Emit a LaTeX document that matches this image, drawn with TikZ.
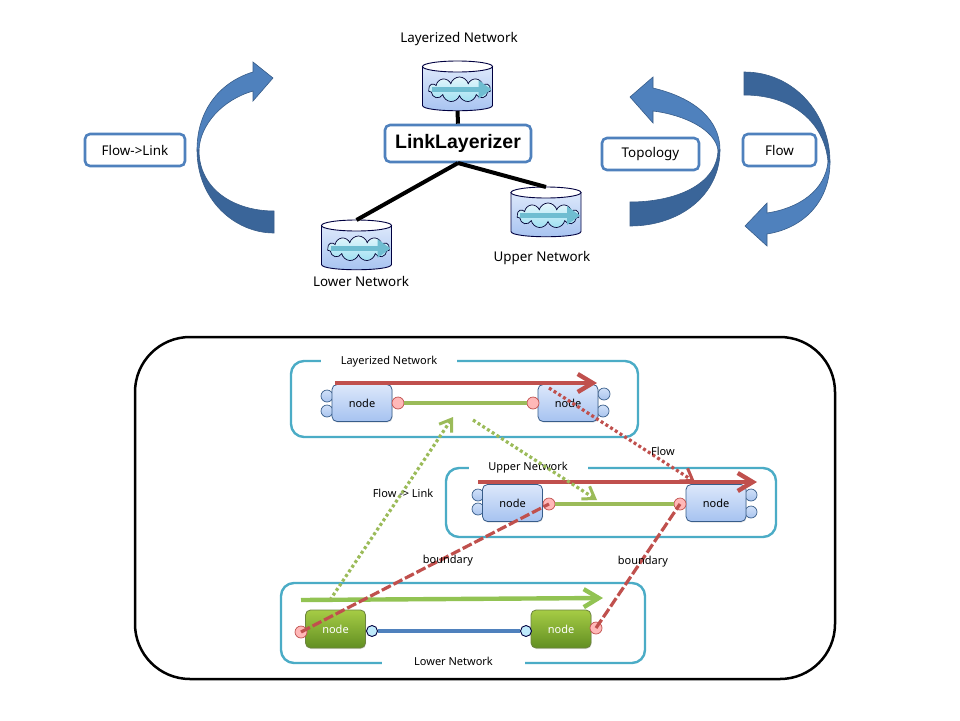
\documentclass[tikz,border=0pt]{standalone}
\usepackage{fontspec}
\setmainfont{Noto Sans}
\newfontfamily\boldarial{Liberation Sans}
\usetikzlibrary{arrows.meta,shapes.symbols,shadows}
\definecolor{accblue}{HTML}{4F81BD}
\definecolor{darkblue}{HTML}{3A6599}
\definecolor{edgeblue}{HTML}{385D8A}
\definecolor{teal}{HTML}{4BACC6}
\definecolor{accred}{HTML}{C0504D}
\definecolor{accgreen}{HTML}{9BBB59}
\definecolor{brightgreen}{HTML}{92C353}
\definecolor{nodetop}{HTML}{DCE8FB}
\definecolor{nodebot}{HTML}{A6C2F0}
\definecolor{porttop}{HTML}{D0E0F8}
\definecolor{portbot}{HTML}{A9C4EE}
\definecolor{greentop}{HTML}{A6CC45}
\definecolor{greenbot}{HTML}{628F22}
\definecolor{cloudtop}{HTML}{E4F6FC}
\definecolor{cloudbot}{HTML}{9FE0F2}
\tikzset{
  lbl/.style={font=\fontsize{13.4}{15}\selectfont,inner sep=0pt},
  smalllbl/.style={font=\fontsize{11}{13}\selectfont,inner sep=0pt},
  tagbox/.style={draw=accblue,line width=2.6pt,rounded corners=5pt,fill=white,font=\fontsize{13.4}{15}\selectfont},
  spoke/.style={line width=4pt,black},
  bluenode/.style={draw=edgeblue,line width=.8pt,rounded corners=5pt,top color=nodetop,bottom color=nodebot,minimum width=60pt,minimum height=37pt,inner sep=0pt,font=\fontsize{11}{13}\selectfont,drop shadow={opacity=.25,shadow xshift=.6pt,shadow yshift=-1pt}},
  greennode/.style={draw=accgreen!70!black,line width=.8pt,rounded corners=5pt,top color=greentop,bottom color=greenbot,text=white,minimum width=60pt,minimum height=38pt,inner sep=0pt,font=\fontsize{11}{13}\selectfont,drop shadow={opacity=.25,shadow xshift=.6pt,shadow yshift=-1pt}},
  blueport/.style={circle,draw=edgeblue,line width=.7pt,top color=porttop,bottom color=portbot,minimum size=12pt,inner sep=0pt},
  pinkport/.style={circle,draw=accred,line width=.7pt,fill=red!28!white,minimum size=12pt,inner sep=0pt},
  cyanport/.style={circle,draw=black!75!blue,line width=.9pt,fill=cyan!25!white,minimum size=11pt,inner sep=0pt},
  netbox/.style={draw=teal,line width=2.4pt,rounded corners=13pt},
  gaplabel/.style={fill=white,inner xsep=0pt,inner ysep=2pt,minimum height=10pt,font=\fontsize{11}{13}\selectfont,align=center},
  bigarrow/.style={line width=4.4pt,-{Straight Barb[length=15pt,width=18pt,line width=4.4pt]}},
  dotarrow/.style={line width=3.2pt,dash pattern=on 3pt off 2.6pt,-{Straight Barb[length=11pt,width=15pt,line width=3pt]}},
  dashline/.style={line width=3.2pt,accred,dash pattern=on 10pt off 3pt},
  netdb/.pic={
    \path[draw=black!75!blue,line width=.9pt,top color=nodetop,bottom color=nodebot]
      (-35,-19.5) -- (-35,19.5) .. controls (-35,26.5) and (35,26.5) .. (35,19.5) -- (35,-19.5) -- cycle;
    \draw[black!75!blue,line width=.9pt,fill=white] (0,-19.5) ellipse [x radius=35,y radius=5.5];
    \node[cloud,cloud puffs=11,aspect=2.6,draw=black!80!blue,line width=.7pt,top color=cloudtop,bottom color=cloudbot,minimum width=62pt,minimum height=25pt,inner sep=0pt] (-cloud) at (2,3.5) {};
    \coordinate (-a) at (-26,3.5);
    \coordinate (-b) at (34,3.5);
    \draw[teal!80!white,line width=5pt,-{Triangle[length=13pt,width=18pt]}] (-a) -- (-b);
    \coordinate (-top) at (0,-25);
    \coordinate (-bottom) at (0,25);
  }
}
\begin{document}
\begin{tikzpicture}[x=1pt,y=-1pt]
\useasboundingbox[fill=white] (0,0) rectangle (960,720);

% ---- upper part
\coordinate (hubB) at (458,163);
\pic (dbLay) at (457.5,86) {netdb};
\pic (dbLow) at (356.5,245) {netdb};
\pic (dbUp) at (546,212) {netdb};
\node[tagbox,minimum width=146pt,minimum height=37pt,font=\boldarial\bfseries\fontsize{19.5}{22}\selectfont] (hub) at (458,143.5) {LinkLayerizer};
\draw[spoke] (dbLay-bottom) -- (hub.north);
\draw[spoke] (hubB) -- (dbLow-top);
\draw[spoke] (hubB) -- (dbUp-top);
\node[lbl] (tLay) at (459,39.5) {Layerized Network};
\node[lbl] (tUp) at (542,258.5) {Upper Network};
\node[lbl] (tLow) at (361,281) {Lower Network};

\node[tagbox,minimum width=100pt,minimum height=32pt,inner sep=0pt] (tagFL) at (135,150) {Flow->Link};
\node[tagbox,minimum width=97pt,minimum height=32pt,inner sep=0pt] (tagTopo) at (650.5,154) {Topology};
\node[tagbox,minimum width=73pt,minimum height=32pt,inner sep=0pt] (tagFlow) at (779.5,150) {Flow};

% left curved arrow
\draw[edgeblue,line width=.6pt,fill=darkblue] (197,150) .. controls (197,200) and (235,233) .. (274,233) -- (274,211) .. controls (235,211) and (199,190) .. (199,150) -- cycle;
\draw[edgeblue,line width=.6pt,fill=accblue] (197,150) .. controls (197,110) and (220,82) .. (253,72) -- (253,62) -- (273,78) -- (253,101) -- (253,91) .. controls (222,100) and (200,125) .. (199,150) -- cycle;
% topology curved arrow
\draw[edgeblue,line width=.6pt,fill=darkblue] (720,150) .. controls (720,195) and (680,226) .. (630,226) -- (630,202) .. controls (675,202) and (717,185) .. (718,150) -- cycle;
\draw[edgeblue,line width=.6pt,fill=accblue] (720,150) .. controls (720,120) and (695,98) .. (653,88) -- (653,77) -- (630,97) -- (653,123) -- (653,111) .. controls (685,115) and (715,130) .. (718,150) -- cycle;
% flow curved arrow
\draw[edgeblue,line width=.6pt,fill=darkblue] (744,72) .. controls (795,72) and (830,115) .. (830,162) -- (828,162) .. controls (825,125) and (795,95) .. (744,95) -- cycle;
\draw[edgeblue,line width=.6pt,fill=accblue] (830,162) .. controls (830,200) and (805,228) .. (767,234) -- (767,246) -- (745,226) -- (767,203) -- (767,213) .. controls (800,208) and (825,190) .. (828,162) -- cycle;

% ---- lower part
\draw[black,line width=2.5pt,rounded corners=55pt] (135,337) rectangle (835,679);

\draw[netbox] (291,361) rectangle (638,437);
\draw[netbox] (446,468) rectangle (776,537);
\draw[netbox] (281,583) rectangle (645,663);
\node[gaplabel,minimum width=136pt] (capLay) at (389,361.5) {Layerized Network};
\node[gaplabel,minimum width=119pt] (capUp) at (528,467.5) {Upper Network};
\node[gaplabel,minimum width=143pt] (capLow) at (453.5,661.5) {Lower Network};

% layerized row
\node[blueport] (lp1) at (327,396) {};
\node[blueport] (lp2) at (327,411) {};
\node[blueport] (lp3) at (604,394) {};
\node[blueport] (lp4) at (603,411) {};
\node[bluenode] (ln1) at (362,403) {node};
\node[bluenode] (ln2) at (568,403) {node};
\node[pinkport] (lq1) at (398,403) {};
\node[pinkport] (lq2) at (533,403) {};
\draw[accgreen,line width=4pt] (lq1) -- (lq2);
\coordinate (la) at (335,383);
\coordinate (lb) at (597,383);
\draw[bigarrow,accred] (la) -- (lb);

% upper row
\node[blueport] (up1) at (478,495) {};
\node[blueport] (up2) at (478,509) {};
\node[blueport] (up3) at (751,495) {};
\node[blueport] (up4) at (751,512) {};
\node[bluenode] (un1) at (512.5,503) {node};
\node[bluenode] (un2) at (716,503) {node};
\node[pinkport] (uq1) at (549,504) {};
\node[pinkport] (uq2) at (680,504) {};
\draw[accgreen,line width=4pt] (uq1) -- (uq2);
\coordinate (ua) at (478,482);
\coordinate (ub) at (757,482);
\draw[bigarrow,accred] (ua) -- (ub);

% lower row
\coordinate (wa) at (301,600);
\coordinate (wb) at (603,598);
\draw[bigarrow,brightgreen] (wa) -- (wb);
\node[greennode] (wn1) at (335.5,629) {node};
\node[greennode] (wn2) at (561,629) {node};
\node[cyanport] (wc1) at (372,631) {};
\node[cyanport] (wc2) at (526,631) {};
\node[pinkport] (wq1) at (301,632) {};
\node[pinkport] (wq2) at (596,628) {};
\draw[accblue,line width=4pt] (wc1) -- (wc2);

% cross links
\draw[dashline] (wq1.center) -- (uq1.center);
\draw[dashline] (wq2.center) -- (uq2.center);
\coordinate (da) at (549,388);
\coordinate (db) at (695,482);
\draw[dotarrow,accred] (da) -- (db);
\coordinate (ga) at (330,600);
\coordinate (gb) at (453,417);
\draw[dotarrow,accgreen] (ga) -- (gb);
\coordinate (ha) at (473,420);
\coordinate (hb) at (597,500);
\draw[dotarrow,accgreen] (ha) -- (hb);

\node[smalllbl] (tFlow) at (663,451) {Flow};
\node[smalllbl] (tFL) at (403,493) {Flow -> Link};
\node[smalllbl] (tB1) at (448,561) {boundary};
\node[smalllbl] (tB2) at (643,562) {boundary};
\end{tikzpicture}
\end{document}
